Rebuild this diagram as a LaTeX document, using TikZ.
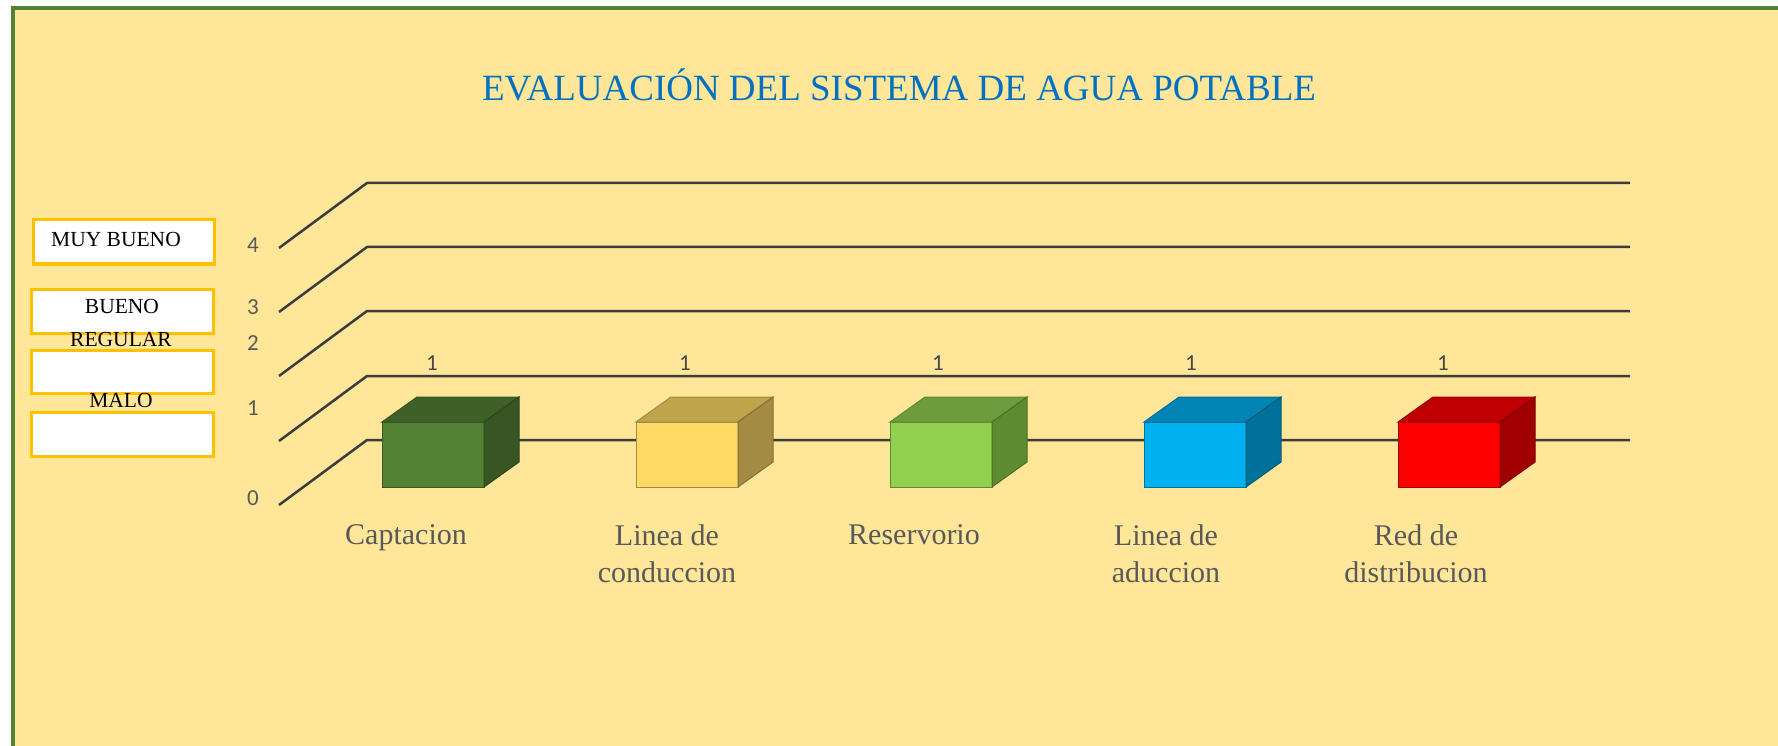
\documentclass[tikz,border=0pt]{standalone}
\usepackage{fontspec}
\usepackage{xcolor}
\setmainfont{Liberation Serif}
\newfontfamily\numfont{Carlito}
\usetikzlibrary{positioning, calc}
\definecolor{Frame}{RGB}{84, 130, 53}
\definecolor{Paper}{RGB}{255, 230, 153}
\definecolor{Heading}{RGB}{0, 112, 192}
\definecolor{Gold}{RGB}{255, 192, 0}
\definecolor{Ink}{RGB}{89, 89, 89}
\definecolor{Grid}{RGB}{60, 60, 60}
\definecolor{GreenF}{RGB}{84, 130, 53}
\definecolor{GreenT}{RGB}{63, 97, 41}
\definecolor{GreenS}{RGB}{55, 86, 35}
\definecolor{YellowF}{RGB}{255, 217, 102}
\definecolor{YellowT}{RGB}{191, 164, 76}
\definecolor{YellowS}{RGB}{163, 139, 65}
\definecolor{LimeF}{RGB}{146, 208, 80}
\definecolor{LimeT}{RGB}{110, 156, 60}
\definecolor{LimeS}{RGB}{94, 138, 50}
\definecolor{BlueF}{RGB}{0, 176, 240}
\definecolor{BlueT}{RGB}{0, 132, 180}
\definecolor{BlueS}{RGB}{0, 113, 154}
\definecolor{RedF}{RGB}{255, 0, 0}
\definecolor{RedT}{RGB}{192, 0, 0}
\definecolor{RedS}{RGB}{160, 0, 0}
\tikzset{
  gridline/.style={draw=Grid, line width=2.5pt, line join=round},
  legendbox/.style={draw=Gold, line width=3pt, fill=white},
  legendtext/.style={font=\fontsize{21.5}{24}\selectfont, text=black, inner sep=0pt},
  axistext/.style={font=\numfont\fontsize{23}{26}\selectfont, text=Ink, inner sep=0pt},
  valuetext/.style={font=\numfont\fontsize{23}{26}\selectfont, text=Ink!80!black, inner sep=0pt},
  cattext/.style={font=\fontsize{30}{37}\selectfont, text=Ink, align=center, anchor=north, inner sep=0pt},
  barface/.style={line width=1pt}
}

\begin{document}
\begin{tikzpicture}[x=1pt, y=-1pt]
  \useasboundingbox (0,0) rectangle (1778,746);
  \draw[fill=Paper, draw=Frame, line width=4.5pt] (13,8) rectangle (1800,770);

  \node (title) at (899, 85) [font=\fontsize{37}{40}\selectfont, text=Heading] {EVALUACIÓN DEL SISTEMA DE AGUA POTABLE};

  % legend
  \draw[legendbox] (33,220) rectangle (214,264);
  \draw[legendbox] (31,289) rectangle (213,333);
  \draw[legendbox] (31,350) rectangle (213,393);
  \draw[legendbox] (31,412) rectangle (213,456);
  \node (muybueno) at (116, 239) [legendtext] {MUY BUENO};
  \node (bueno) at (122, 306) [legendtext] {BUENO};
  \node (regular) at (121, 339) [legendtext] {REGULAR};
  \node (malo) at (121, 400) [legendtext] {MALO};

  % grid
  \draw[gridline] (279,505) -- (367,440) -- (1630,440);
  \draw[gridline] (279,441) -- (367,376) -- (1630,376);
  \draw[gridline] (279,376) -- (367,311) -- (1630,311);
  \draw[gridline] (279,312) -- (367,247) -- (1630,247);
  \draw[gridline] (279,248) -- (367,183) -- (1630,183);
  \node (ax4) at (253, 245) [axistext] {4};
  \node (ax3) at (253, 307) [axistext] {3};
  \node (ax2) at (253, 343) [axistext] {2};
  \node (ax1) at (253, 408) [axistext] {1};
  \node (ax0) at (253, 498) [axistext] {0};

  % bars
  \draw[barface, fill=GreenF, draw=GreenS] (382,422) rectangle (484,487);
  \draw[barface, fill=GreenT, draw=GreenS] (382,422) -- (417,397) -- (519,397) -- (484,422) -- cycle;
  \draw[barface, fill=GreenS, draw=GreenS!80!black] (484,422) -- (519,397) -- (519,462) -- (484,487) -- cycle;

  \draw[barface, fill=YellowF, draw=YellowS] (636,422) rectangle (738,487);
  \draw[barface, fill=YellowT, draw=YellowS] (636,422) -- (671,397) -- (773,397) -- (738,422) -- cycle;
  \draw[barface, fill=YellowS, draw=YellowS!80!black] (738,422) -- (773,397) -- (773,462) -- (738,487) -- cycle;

  \draw[barface, fill=LimeF, draw=LimeS] (890,422) rectangle (992,487);
  \draw[barface, fill=LimeT, draw=LimeS] (890,422) -- (925,397) -- (1027,397) -- (992,422) -- cycle;
  \draw[barface, fill=LimeS, draw=LimeS!80!black] (992,422) -- (1027,397) -- (1027,462) -- (992,487) -- cycle;

  \draw[barface, fill=BlueF, draw=BlueS] (1144,422) rectangle (1246,487);
  \draw[barface, fill=BlueT, draw=BlueS] (1144,422) -- (1179,397) -- (1281,397) -- (1246,422) -- cycle;
  \draw[barface, fill=BlueS, draw=BlueS!80!black] (1246,422) -- (1281,397) -- (1281,462) -- (1246,487) -- cycle;

  \draw[barface, fill=RedF, draw=RedS] (1398,422) rectangle (1500,487);
  \draw[barface, fill=RedT, draw=RedS] (1398,422) -- (1433,397) -- (1535,397) -- (1500,422) -- cycle;
  \draw[barface, fill=RedS, draw=RedS!80!black] (1500,422) -- (1535,397) -- (1535,462) -- (1500,487) -- cycle;

  \node (val1) at (432, 363) [valuetext] {1};
  \node (val2) at (685, 363) [valuetext] {1};
  \node (val3) at (938, 363) [valuetext] {1};
  \node (val4) at (1191, 363) [valuetext] {1};
  \node (val5) at (1443, 363) [valuetext] {1};

  % categories
  \node (cat1) at (406, 524) [cattext] {Captacion};
  \node (cat2) at (667, 524) [cattext] {Linea de\\conduccion};
  \node (cat3) at (914, 524) [cattext] {Reservorio};
  \node (cat4) at (1166, 524) [cattext] {Linea de\\aduccion};
  \node (cat5) at (1416, 524) [cattext] {Red de\\distribucion};
\end{tikzpicture}
\end{document}
